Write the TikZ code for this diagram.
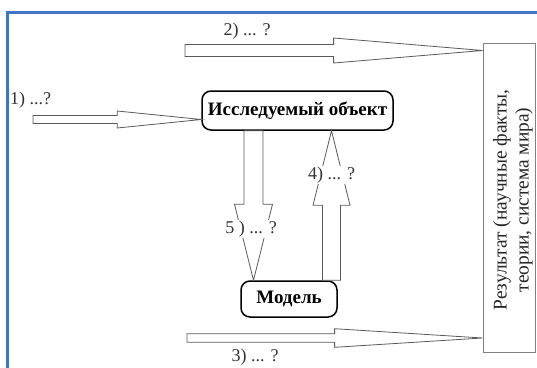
\documentclass[tikz,border=0pt]{standalone}
\usepackage{fontspec}
\setmainfont{Liberation Serif}
\usetikzlibrary{calc}
\definecolor{frameblue}{RGB}{68,114,196}
\definecolor{arrgray}{RGB}{90,90,90}
\tikzset{
  barrow/.style={draw=arrgray, line width=0.8pt, fill=white, line join=miter},
  rbox/.style={draw=black, line width=1.5pt, rounded corners=9pt, font=\fontsize{19}{22}\selectfont\bfseries, inner sep=0pt},
  resbox/.style={draw=gray, line width=0.8pt, inner sep=0pt},
  lbl/.style={font=\fontsize{18}{20}\selectfont, text=black!80, inner sep=1pt},
}
% #1 tail, #2 tip, #3 head length, #4 shaft half width, #5 head half width
\newcommand\blockarr[5]{%
  \coordinate (hb) at ($(#2)!#3!(#1)$);
  \draw[barrow] ($(#1)!#4!90:(#2)$) -- ($(hb)!#4!-90:(#1)$) -- ($(hb)!#5!-90:(#1)$)
     -- (#2) -- ($(hb)!#5!90:(#1)$) -- ($(hb)!#4!90:(#1)$) -- ($(#1)!#4!-90:(#2)$) -- cycle;
}
\begin{document}
\begin{tikzpicture}[x=1pt,y=-1pt]
\useasboundingbox (0,0) rectangle (537,367);
% frame
\draw[frameblue, line width=2.5pt] (7.5,368) -- (7.5,12.5) -- (538,12.5);
% nodes
\node[rbox, minimum width=191pt, minimum height=39pt] (obj) at (297.5,110.5) {Исследуемый объект};
\node[rbox, minimum width=96pt, minimum height=36pt] (mod) at (289,299) {Модель};
\node[resbox, minimum width=52pt, minimum height=309pt] (res) at (509,197.5) {};
\node[rotate=90, align=center, font=\fontsize{19.4}{22}\selectfont, text=black!85, inner sep=0pt] (restext) at (513,200) {Результат (научные факты,\\теории, система мира)};
% helper coordinates
\coordinate (c1) at (33,119.5);
\coordinate (c2) at (185,50.5);
\coordinate (c3) at (187,338);
\coordinate (c5) at (253.5,200);
\coordinate (c4) at (331.5,200);
\coordinate (a1e) at (obj.west |- c1);
\coordinate (a2e) at (res.west |- c2);
\coordinate (a3e) at (res.west |- c3);
\coordinate (a5s) at (obj.south -| c5);
\coordinate (a5e) at (mod.north -| c5);
\coordinate (a4s) at (mod.north -| c4);
\coordinate (a4e) at (obj.south -| c4);
% arrows
\blockarr{c1}{a1e}{84pt}{4pt}{8.5pt}
\blockarr{c2}{a2e}{149pt}{6pt}{12.5pt}
\blockarr{c3}{a3e}{148pt}{4.3pt}{9.3pt}
\blockarr{a5s}{a5e}{76pt}{9.5pt}{19pt}
\blockarr{a4s}{a4e}{74.5pt}{9pt}{18.5pt}
% labels
\node[lbl] (l1) at (30.5,100) {1) ...?};
\node[lbl] (l2) at (247,31) {2) ... ?};
\node[lbl] (l3) at (255,357.5) {3) ... ?};
\node[lbl, fill=white] (l4) at (331.5,175) {4) ... ?};
\node[lbl, fill=white] (l5) at (251,229) {5 ) ... ?};
\end{tikzpicture}
\end{document}
